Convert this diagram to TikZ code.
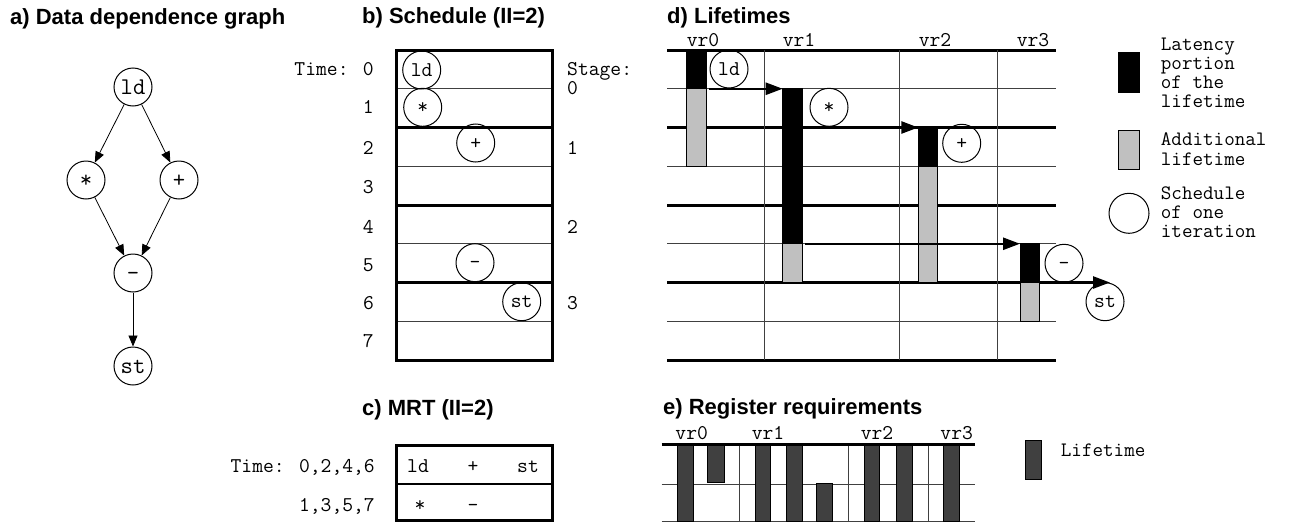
\documentclass[tikz,border=0pt]{standalone}
\usepackage{fontspec}
\setmainfont{Liberation Sans}
\usetikzlibrary{arrows.meta}
\definecolor{lgray}{HTML}{C0C0C0}
\definecolor{dgray}{HTML}{404040}
\tikzset{
 ttl/.style={anchor=base west, inner sep=0, font=\fontsize{22}{24}\selectfont\bfseries},
 mono/.style={inner sep=0, font=\ttfamily\fontsize{21}{21}\selectfont, text height=12.5pt, text depth=0pt},
 op/.style={mono, circle, draw, line width=1, minimum size=38pt},
 opA/.style={op, font=\ttfamily\fontsize{24}{24}\selectfont, text height=14pt},
 dep/.style={-{Triangle[length=11pt,width=9pt]}, line width=0.8},
 flow/.style={-{Triangle[length=17pt,width=12pt]}, line width=2.5},
 heavy/.style={line width=3},
 light/.style={line width=1, black!75},
 latency/.style={fill=black, draw=black, line width=1},
 extra/.style={fill=lgray, draw=black, line width=1},
 life/.style={fill=dgray, draw=black, line width=1},
 legtext/.style={inner sep=0, anchor=base west, font=\ttfamily\fontsize{20.5}{20.5}\selectfont},
}
\begin{document}
\begin{tikzpicture}[x=1pt,y=-1pt]
\useasboundingbox (0,0) rectangle (1289,522);

% ---------- titles
\node[ttl] (ta) at (10,24) {a) Data dependence graph};
\node[ttl] (tb) at (362,23) {b) Schedule (II=2)};
\node[ttl] (tc) at (362,415) {c) MRT (II=2)};
\node[ttl] (td) at (667,23) {d) Lifetimes};
\node[ttl] (te) at (663,414) {e) Register requirements};

% ---------- a) graph
\node[opA] (a-ld)  at (133,87)  {ld};
\node[opA] (a-mul) at (86,180)  {*};
\node[opA] (a-add) at (179,180) {+};
\node[opA] (a-sub) at (133,273) {–};
\node[opA] (a-st)  at (133,366) {st};
\draw[dep] (a-ld) -- (a-mul);
\draw[dep] (a-ld) -- (a-add);
\draw[dep] (a-mul) -- (a-sub);
\draw[dep] (a-add) -- (a-sub);
\draw[dep] (a-sub) -- (a-st);

% ---------- b) schedule
\foreach \k in {1,3,5,7} \draw[light] (396.7,{50+38.75*\k}) -- (552.3,{50+38.75*\k});
\foreach \k in {2,4,6} \draw[heavy] (396.7,{50+38.75*\k}) -- (552.3,{50+38.75*\k});
\draw[heavy] (396.7,50) rectangle (552.3,360);
\node[mono, anchor=east] (bt0) at (374,69) {Time: 0};
\foreach \t/\y in {1/107,2/148,3/187,4/227,5/265,6/303,7/341}
  \node[mono, anchor=east] (bt\t) at (374,\y) {\t};
\node[mono, anchor=west] (bs) at (567,69) {Stage:};
\foreach \s/\y in {0/88,1/148,2/227,3/303}
  \node[mono, anchor=west] (bs\s) at (567,\y) {\s};
\node[op] (b-ld)  at (421.7,70)    {ld};
\node[op] (b-mul) at (422.7,107.3) {*};
\node[op] (b-add) at (475.7,143)   {+};
\node[op] (b-sub) at (475,262.7)   {–};
\node[op] (b-st)  at (521.7,301.7) {st};

% ---------- c) MRT
\draw[line width=1.3] (396.7,484) -- (552.3,484);
\draw[heavy] (396.7,445) rectangle (552.3,520);
\node[mono, anchor=east] (ct0) at (375,466) {Time: 0,2,4,6};
\node[mono, anchor=east] (ct1) at (375,505) {1,3,5,7};
\node[mono] (c-ld)  at (418,466) {ld};
\node[mono] (c-add) at (473,466) {+};
\node[mono] (c-st)  at (528,466) {st};
\node[mono] (c-mul) at (420,505) {*};
\node[mono] (c-sub) at (473,505) {–};

% ---------- d) lifetimes
\foreach \k in {1,3,5,7} \draw[light] (667,{50+38.75*\k}) -- (1056,{50+38.75*\k});
\foreach \k in {0,2,4,6,8} \draw[heavy] (667,{50+38.75*\k}) -- (1056,{50+38.75*\k});
\foreach \x in {764,899,997.7} \draw[light] (\x,50) -- (\x,360);
\foreach \n/\x in {0/703,1/799,2/935,3/1033}
  \node[mono] (dv\n) at (\x,40) {vr\n};
% bars
\draw[latency] (686,50) rectangle (706,88.75);
\draw[extra]   (686,88.75) rectangle (706,166.25);
\draw[latency] (782.7,88.75) rectangle (802.7,243.75);
\draw[extra]   (782.7,243.75) rectangle (802.7,282.5);
\draw[latency] (918.3,127.5) rectangle (937.7,166.25);
\draw[extra]   (918.3,166.25) rectangle (937.7,282.5);
\draw[latency] (1020,243.75) rectangle (1039.3,282.5);
\draw[extra]   (1020,282.5) rectangle (1039.3,321.25);
% flow arrows
\coordinate (f1s) at (709,88.75);   \coordinate (f1e) at (782.7,88.75);
\coordinate (f2s) at (803,127.5);   \coordinate (f2e) at (918.3,127.5);
\coordinate (f3s) at (805,243.75);  \coordinate (f3e) at (1020,243.75);
\coordinate (f4s) at (1047,282.5);  \coordinate (f4e) at (1110,282.5);
\draw[flow] (f1s) -- (f1e);
\draw[flow] (f2s) -- (f2e);
\draw[flow] (f3s) -- (f3e);
\draw[flow] (f4s) -- (f4e);
% ops
\node[op] (d-ld)  at (729,69)      {ld};
\node[op] (d-mul) at (829,107.3)   {*};
\node[op] (d-add) at (961.7,143.3) {+};
\node[op] (d-sub) at (1064,263.3)  {–};
\node[op] (d-st)  at (1105,301.7)  {st};

% legend d
\draw[latency] (1118.3,52.7) rectangle (1139.3,92.3);
\draw[extra]   (1118.3,130.7) rectangle (1139.3,169.3);
\node[circle, draw, line width=1, minimum size=40pt, inner sep=0] (lg-c) at (1129,213.3) {};
\node[legtext] (l1) at (1160.7,50)    {Latency};
\node[legtext] (l2) at (1160.7,69.3)  {portion};
\node[legtext] (l3) at (1160.7,88.3)  {of the};
\node[legtext] (l4) at (1160.7,107.3) {lifetime};
\node[legtext] (l5) at (1160.7,145.5) {Additional};
\node[legtext] (l6) at (1160.7,165)   {lifetime};
\node[legtext] (l7) at (1160.7,199.3) {Schedule};
\node[legtext] (l8) at (1160.7,218.3) {of one};
\node[legtext] (l9) at (1160.7,237.3) {iteration};

% ---------- e) register requirements
\draw[light] (661.7,484) -- (975,484);
\draw[light] (661.7,521) -- (975,521);
\foreach \x in {739.3,848.3,928.3} \draw[light] (\x,444.3) -- (\x,521);
\draw[life] (677.3,444.3) rectangle (693.3,521);
\draw[life] (707.7,444.3) rectangle (724,482.3);
\draw[life] (755,444.3) rectangle (770.7,521);
\draw[life] (786,444.3) rectangle (802.3,521);
\draw[life] (816.7,483.3) rectangle (832.7,521);
\draw[life] (864,444.3) rectangle (879.3,521);
\draw[life] (896,444.3) rectangle (912.3,521);
\draw[life] (943.3,444.3) rectangle (959.3,521);
\draw[heavy] (661.7,444.3) -- (975,444.3);
\foreach \n/\x in {0/691.7,1/768,2/877,3/956.7}
  \node[mono] (ev\n) at (\x,433.3) {vr\n};
\draw[life] (1025.7,440.7) rectangle (1041.7,479.3);
\node[legtext] (l10) at (1060.7,456.7) {Lifetime};
\end{tikzpicture}
\end{document}
